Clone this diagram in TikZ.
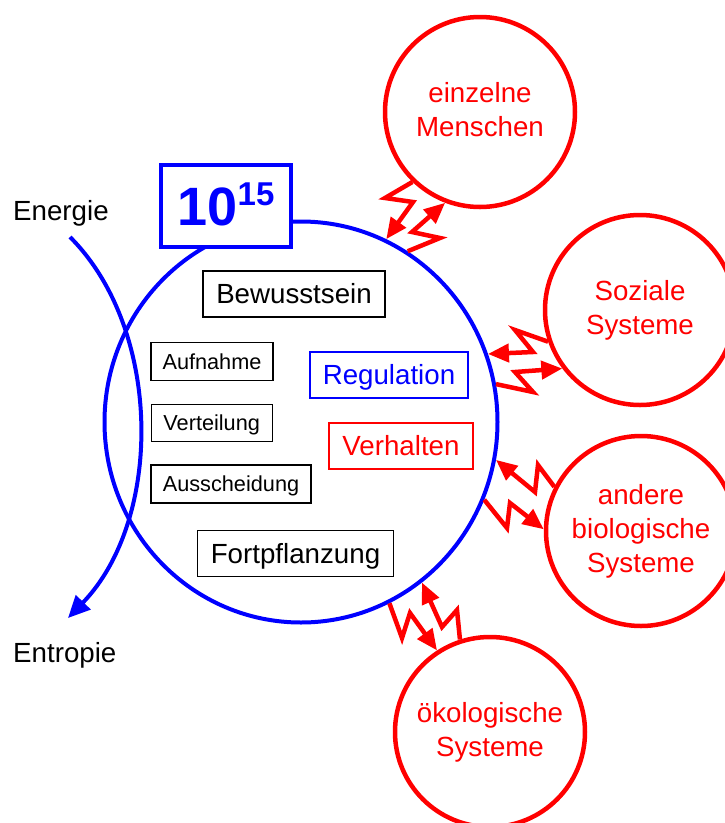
\documentclass[tikz,border=0pt]{standalone}
\usepackage{fontspec}
\setmainfont{Liberation Sans}
\usetikzlibrary{arrows.meta,shapes.geometric}
\newcommand\fsbig{\fontsize{27.7}{34}\selectfont}
\newcommand\fssmall{\fontsize{21.7}{26}\selectfont}
\tikzset{
  lbox/.style={draw=black, line width=1.2pt, fill=white, inner sep=0pt, text depth=0pt},
  sbox/.style={lbox, font=\fssmall, text height=15.5pt},
  bbox/.style={lbox, font=\fsbig, text height=19.8pt},
  rcirc/.style={circle, draw=red, line width=4.5pt, minimum size=190pt, inner sep=0pt, text=red, font=\fsbig, align=center, text depth=5pt},
  zz/.style={draw=red, line width=4.5pt, line join=miter, miter limit=6, -{Triangle[length=21pt,width=18pt]}},
  otext/.style={anchor=base west, font=\fsbig, inner sep=0pt}
}
\begin{document}
\begin{tikzpicture}[x=1pt,y=-1pt]
\useasboundingbox (0,0) rectangle (725,823);
% Energy flow
\coordinate (ein) at (70,237);
\coordinate (aus) at (68,618);
\draw[blue, line width=4pt, -{Triangle[length=22pt,width=20pt]}] (ein) .. controls (163,330) and (163,520) .. (aus);
\node[otext] (energie) at (13,220) {Energie};
\node[otext] (entropie) at (13,662) {Entropie};
% blue system circle
\node[ellipse, draw=blue, line width=4pt, minimum width=393pt, minimum height=401pt, inner sep=0pt] (bc) at (301,422) {};
% 10^15
\node[draw=blue, line width=4pt, fill=white, minimum width=130pt, minimum height=82pt, inner sep=0pt,
      text=blue, text height=38.7pt, text depth=0pt, font=\fontsize{54}{54}\selectfont\bfseries] (pw) at (226,206)
      {10\raisebox{20pt}{\fontsize{33}{33}\selectfont 15}};
% inner boxes
\node[bbox, minimum width=182pt, minimum height=46pt] (bew) at (294,294) {Bewusstsein};
\node[sbox, minimum width=122pt, minimum height=38pt] (auf) at (212,361.5) {Aufnahme};
\node[sbox, minimum width=121pt, minimum height=37pt] (ver) at (211.7,422.7) {Verteilung};
\node[sbox, minimum width=160pt, minimum height=38pt] (aus2) at (231,484) {Ausscheidung};
\node[bbox, minimum width=196pt, minimum height=46pt] (fort) at (295.5,553.7) {Fortpflanzung};
\node[bbox, draw=blue, text=blue, minimum width=158pt, minimum height=46pt] (reg) at (389,375) {Regulation};
\node[bbox, draw=red, text=red, minimum width=144pt, minimum height=46pt] (verh) at (401,446) {Verhalten};
% red circles
\node[rcirc] (men) at (480,112) {einzelne\\Menschen};
\node[rcirc] (soz) at (640,310) {Soziale\\Systeme};
\node[rcirc] (bio) at (641,531) {andere\\biologische\\Systeme};
\node[rcirc] (oek) at (490,732) {ökologische\\Systeme};
% zigzag arrows
\draw[zz] (men.226) -- (385,198) -- (413,202) -- (bc.65);
\draw[zz] (bc.58) -- (440,238) -- (412,232) -- (men.249);
\draw[zz] (soz.199) -- (515,330) -- (533,352) -- (bc.20);
\draw[zz] (bc.11) -- (533,392) -- (515,372) -- (soz.217);
\draw[zz] (bio.153) -- (538,465) -- (535,492) -- (bc.-11.5);
\draw[zz] (bc.-23) -- (507,528) -- (510,503) -- (bio.179);
\draw[zz] (bc.-64) -- (402,638) -- (410,613) -- (oek.123);
\draw[zz] (oek.108) -- (457,610) -- (442,627) -- (bc.-53);
\end{tikzpicture}
\end{document}
